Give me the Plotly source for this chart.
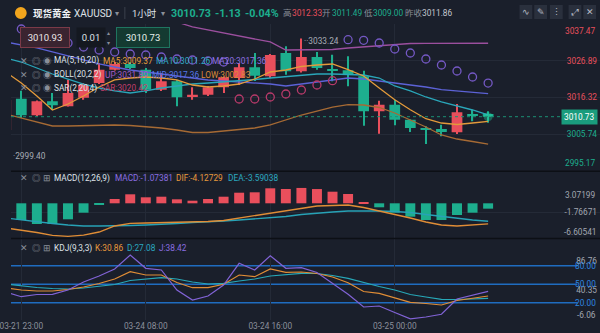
import plotly.graph_objects as go

# ---------------- data ----------------
IDX = list(range(-1, 31))
OPEN = [3006.90, 3015.92, 3011.13, 3015.17, 3013.73, 3016.20, 3020.44, 3024.27, 3025.92, 3024.27,
        3018.51, 3020.93, 3016.41, 3017.07, 3019.20, 3021.88, 3024.97, 3022.37, 3029.09, 3023.81,
        3027.93, 3024.48, 3024.10, 3022.37, 3012.29, 3014.19, 3009.86, 3007.47, 3007.18, 3006.23,
        3011.51, 3011.49]
HIGH = [3016.12, 3018.22, 3015.40, 3017.56, 3021.39, 3020.44, 3026.21, 3026.49, 3026.49, 3024.76,
        3023.32, 3021.31, 3019.20, 3019.58, 3022.31, 3026.21, 3029.09, 3028.80, 3031.02, 3033.24,
        3029.38, 3028.60, 3028.14, 3023.99, 3015.34, 3015.63, 3009.92, 3007.96, 3008.42, 3014.39,
        3012.75, 3012.33]
LOW = [2999.40, 3010.35, 3010.93, 3012.75, 3013.67, 3015.63, 3020.15, 3024.04, 3024.48, 3017.56,
       3018.14, 3013.73, 3015.63, 3016.69, 3017.56, 3019.86, 3021.02, 3021.88, 3022.83, 3023.47,
       3024.27, 3020.93, 3019.49, 3008.13, 3005.83, 3008.25, 3006.32, 3002.86, 3005.08, 3005.74,
       3009.40, 3009.00]
CLOSE = [3015.54, 3011.13, 3015.17, 3014.01, 3017.56, 3019.95, 3024.27, 3025.92, 3024.76, 3018.51,
         3020.93, 3016.32, 3017.07, 3019.20, 3022.08, 3024.97, 3022.54, 3028.51, 3023.81, 3027.93,
         3024.76, 3023.99, 3022.83, 3012.29, 3014.19, 3009.86, 3007.47, 3007.18, 3006.32, 3012.00,
         3011.22, 3010.73]

MA5 = [3023.61, 3020.44, 3016.69, 3012.66, 3014.39, 3016.69, 3019.29, 3021.31, 3021.88, 3022.17,
       3021.88, 3021.31, 3019.86, 3019.29, 3019.58, 3020.15, 3021.59, 3023.61, 3024.19, 3025.20,
       3025.63, 3025.92, 3024.27, 3022.46, 3019.00, 3015.63, 3012.75, 3010.15, 3008.91, 3008.48,
       3008.91, 3009.37]
MA10 = [3027.65, 3026.49, 3024.76, 3023.03, 3021.59, 3020.15, 3019.00, 3018.14, 3017.56, 3018.14,
        3019.00, 3019.58, 3020.15, 3020.44, 3020.73, 3021.02, 3021.45, 3021.88, 3022.31, 3022.75,
        3023.03, 3023.03, 3022.89, 3022.75, 3021.88, 3019.58, 3018.14, 3016.41, 3014.97, 3013.81,
        3012.66, 3011.26]
MA20 = [3032.26, 3031.39, 3030.53, 3029.38, 3028.22, 3027.07, 3025.92, 3025.05, 3024.19, 3023.61,
        3023.03, 3022.46, 3021.88, 3021.31, 3021.02, 3020.73, 3020.44, 3020.15, 3019.58, 3020.15,
        3020.73, 3021.31, 3021.88, 3021.59, 3021.02, 3020.44, 3019.86, 3019.29, 3018.51, 3018.14,
        3017.85, 3017.36]
BOLL_UP = [3053.01, 3052.43, 3051.86, 3050.71, 3048.39, 3045.95, 3043.50, 3041.76, 3040.19, 3039.32,
           3038.59, 3038.02, 3036.60, 3035.72, 3034.85, 3033.99, 3033.12, 3032.26, 3029.95, 3029.95,
           3029.95, 3030.10, 3030.53, 3030.82, 3031.10, 3031.54, 3031.82, 3031.88, 3031.88, 3031.88,
           3031.88, 3031.89]
BOLL_LOW = [3011.51, 3010.35, 3009.20, 3008.05, 3008.05, 3008.19, 3008.34, 3008.34, 3008.19, 3007.90,
            3007.47, 3006.90, 3006.18, 3006.18, 3006.61, 3006.90, 3007.47, 3008.34, 3009.78, 3011.22,
            3012.37, 3013.52, 3014.19, 3014.10, 3013.38, 3011.80, 3009.78, 3007.76, 3005.46, 3004.30,
            3003.58, 3002.83]
SAR = [None, 3036.00, 3034.85, 3033.41, 3031.97, 3030.82, 3029.95, 3029.38, 3028.80, 3028.51,
       3027.93, 3027.36, 3027.07, 3026.78, 3026.49, 3015.83, 3015.83, 3016.41, 3017.27, 3018.42,
       3019.86, 3021.10, 3032.92, 3032.75, 3031.97, 3030.24, 3029.09, 3027.36, 3025.63, 3023.90,
       3022.17, 3020.42]

MACD = [-2.9, -3.34, -4.14, -4.14, -3.2, -1.88, -0.34, 0.86, 1.8, 1.2,
        1.32, 0.8, 0.52, 0.86, 1.32, 2.12, 2.2, 3.0, 2.86, 3.07199,
        2.85, 2.32, 1.86, 0.2, -0.8, -1.88, -2.68, -3.34, -3.34, -2.34,
        -1.88, -1.07381]
DIF = [-4.94, -5.34, -5.84, -6.40, -6.60541, -6.35, -5.74, -4.54, -4.0, -3.94,
       -3.88, -3.8, -3.74, -3.64, -3.44, -2.94, -2.54, -1.94, -1.54, -0.94,
       -0.54, -0.44, -0.34, -0.84, -1.54, -2.14, -2.94, -3.74, -4.34, -4.54,
       -4.34, -4.12729]
DEA = [-2.94, -3.34, -3.74, -4.04, -4.34, -4.54, -4.54, -4.54, -4.44, -4.34,
       -4.24, -4.04, -3.84, -3.74, -3.54, -3.34, -3.14, -2.94, -2.64, -2.24,
       -1.94, -1.74, -1.54, -1.48, -1.54, -1.64, -1.84, -2.24, -2.64, -3.04,
       -3.34, -3.59038]

K = [43.84, 40.59, 38.97, 38.97, 41.40, 45.46, 51.13, 58.43, 70.27, 64.92,
     64.92, 52.75, 44.32, 44.32, 49.84, 64.92, 62.16, 74.64, 69.29, 69.78,
     67.35, 61.67, 52.43, 38.16, 35.24, 28.43, 20.65, 18.70, 16.27, 23.57,
     26.81, 30.86]
D = [50.32, 47.08, 44.65, 43.03, 42.21, 43.84, 46.27, 49.51, 56.0, 58.43,
     60.54, 58.43, 53.57, 50.32, 51.46, 55.19, 58.43, 63.29, 65.73, 67.67,
     67.35, 64.10, 59.56, 52.75, 46.27, 40.59, 33.30, 29.24, 25.51, 25.19,
     26.0, 27.08]
J = [37.35, 29.73, 33.30, 33.62, 40.59, 53.57, 63.29, 74.64, 97.35, 75.78,
     73.02, 40.59, 24.38, 30.86, 48.70, 83.89, 73.02, 96.21, 75.78, 76.75,
     68.97, 51.94, 33.62, 13.03, 14.65, 4.11, -6.06, -3.19, 1.19, 26.0,
     32.49, 38.42]

TIME_TICKS = [0, 8, 16, 24]
TIME_LABELS = ["03-21 23:00", "03-24 08:00", "03-24 16:00", "03-25 00:00"]
PRICE_TICKS = [3037.47, 3026.89, 3016.32, 3005.74, 2995.17]
MACD_TICKS = [3.07199, -1.76671, -6.60541]
KDJ_TICKS = [86.76, 40.35, -6.06]
KDJ_LEVELS = [80, 50, 20]
PREV_CLOSE = 3011.86
ORDER_SELL, ORDER_LOT, ORDER_BUY = "3010.93", "0.01", "3010.73"

# ---------------- style ----------------
W, H = 600, 333
BG = "#1a1f2b"
GRID = "#242a37"
RED = "#e94f5c"
GREEN = "#1dae8e"
C_MA5, C_MA10, C_MA20 = "#e39a3b", "#2aa6b9", "#5c62d6"
C_UP, C_LOW = "#9b4f9e", "#a66a34"
SAR_BELOW, SAR_ABOVE = "#b73a6a", "#7458c4"
C_DIF, C_DEA = "#e08d36", "#27a2b6"
C_K, C_D, C_J = "#e08d36", "#27a8b8", "#8163d6"
LVL = "#1f6cc0"
AX_TXT = "#a2a7b1"
ICON = "#8a8f99"
WHITE = "#dfe2e8"
FONT = "Roboto, Noto Sans, Noto Sans CJK SC, sans-serif"
FS = 8.3  # small text size


def px(x):
    return x / W


def py(y):
    return 1 - y / H


X_RANGE = [-0.6625, 37.19]
DOM_PRICE = [py(170.7), py(23.9)]
DOM_MACD = [py(238), py(172)]
DOM_KDJ = [py(320), py(239)]

fig = go.Figure()

# ---- price pane: candles from OHLC ----
cols = [RED if c >= o else GREEN for o, c in zip(OPEN, CLOSE)]
fig.add_trace(go.Bar(x=IDX, base=LOW, y=[h - l for h, l in zip(HIGH, LOW)], width=0.075,
                     xaxis="x", yaxis="y", marker=dict(color=cols, line=dict(width=0)),
                     showlegend=False, hoverinfo="skip"))
fig.add_trace(go.Bar(x=IDX, base=[min(o, c) for o, c in zip(OPEN, CLOSE)],
                     y=[max(abs(c - o), 0.3) for o, c in zip(OPEN, CLOSE)], width=0.69,
                     xaxis="x", yaxis="y", marker=dict(color=cols, line=dict(width=0)),
                     showlegend=False, hoverinfo="skip"))

for ys, col in [(BOLL_UP, C_UP), (BOLL_LOW, C_LOW), (MA20, C_MA20), (MA10, C_MA10), (MA5, C_MA5)]:
    fig.add_trace(go.Scatter(x=IDX, y=ys, mode="lines", xaxis="x", yaxis="y",
                             line=dict(color=col, width=1.3), showlegend=False, hoverinfo="skip"))

sar_cols = [SAR_BELOW if (s is not None and s < c) else SAR_ABOVE for s, c in zip(SAR, CLOSE)]
fig.add_trace(go.Scatter(x=IDX, y=SAR, mode="markers", xaxis="x", yaxis="y",
                         marker=dict(symbol="circle-open", size=8, color=sar_cols, line=dict(width=1.3)),
                         showlegend=False, hoverinfo="skip"))
fig.add_trace(go.Scatter(x=[IDX[-1]], y=[CLOSE[-1]], mode="markers", xaxis="x", yaxis="y",
                         marker=dict(size=9, color="rgba(40,220,170,0.35)"),
                         showlegend=False, hoverinfo="skip"))

# ---- MACD pane ----
fig.add_trace(go.Bar(x=IDX, y=MACD, xaxis="x2", yaxis="y2", width=0.64,
                     marker=dict(color=[RED if v > 0 else GREEN for v in MACD], line=dict(width=0)),
                     showlegend=False, hoverinfo="skip"))
fig.add_trace(go.Scatter(x=IDX, y=DEA, mode="lines", xaxis="x2", yaxis="y2",
                         line=dict(color=C_DEA, width=1.3), showlegend=False, hoverinfo="skip"))
fig.add_trace(go.Scatter(x=IDX, y=DIF, mode="lines", xaxis="x2", yaxis="y2",
                         line=dict(color=C_DIF, width=1.3), showlegend=False, hoverinfo="skip"))

# ---- KDJ pane ----
for ys, col in [(D, C_D), (K, C_K), (J, C_J)]:
    fig.add_trace(go.Scatter(x=IDX, y=ys, mode="lines", xaxis="x3", yaxis="y3",
                             line=dict(color=col, width=1.2), showlegend=False, hoverinfo="skip"))

# ---------------- shapes ----------------
shapes = []
for lv in KDJ_LEVELS:
    shapes.append(dict(type="line", xref="paper", yref="y3", x0=0, x1=px(577), y0=lv, y1=lv,
                       line=dict(color=LVL, width=1.5), layer="below"))
shapes.append(dict(type="line", xref="paper", yref="y", x0=0, x1=px(566), y0=CLOSE[-1], y1=CLOSE[-1],
                   line=dict(color="#1c8f73", width=1, dash="dot")))
for yy in (171.3, 238.5):
    shapes.append(dict(type="line", xref="paper", yref="paper", x0=0, x1=1, y0=py(yy), y1=py(yy),
                       line=dict(color="#0c0f15", width=1.5)))
shapes.append(dict(type="circle", xref="paper", yref="paper", x0=px(4), x1=px(16), y0=py(19), y1=py(7),
                   fillcolor="#f2a51d", line=dict(width=0)))
shapes.append(dict(type="line", xref="paper", yref="paper", x0=px(116), x1=px(116), y0=py(19), y1=py(7),
                   line=dict(color="#3b414d", width=1)))
for x0, x1 in [(518, 531), (533, 546), (549, 562), (568, 581), (583, 596)]:
    shapes.append(dict(type="rect", xref="paper", yref="paper", x0=px(x0), x1=px(x1), y0=py(19), y1=py(5),
                       fillcolor="#2a303d", line=dict(width=0)))

# ---------------- annotations ----------------
ann = []


def A(x, y, text, color, size=FS, xanchor="left", bold=False, xref="paper", yref="paper", **kw):
    if bold:
        text = "<b>" + text + "</b>"
    d = dict(x=x, y=y, xref=xref, yref=yref, text=text, showarrow=False, xanchor=xanchor,
             yanchor="middle", font=dict(color=color, size=size, family=FONT))
    d.update(kw)
    return d


last = CLOSE[-1]
chg = last - PREV_CLOSE
pct = chg / PREV_CLOSE * 100
hy = py(13)
ann += [
    A(px(20), hy, "现货黄金", "#f0f2f5", 9.5, bold=True),
    A(px(62), hy, "XAUUSD", WHITE, 10),
    A(px(104), hy, "▾", ICON, 8),
    A(px(121), hy, "1小时", WHITE, 9.5),
    A(px(151), hy, "▾", ICON, 8),
    A(px(161), hy, f"{last:.2f}", GREEN, 10.7, bold=True),
    A(px(206), hy, f"{chg:.2f}", GREEN, 10.7, bold=True),
    A(px(236), hy, f"{pct:.2f}%", GREEN, 10.7, bold=True),
    A(px(275), hy, "高", ICON, 8.5),
    A(px(284), hy, f"{HIGH[-1]:.2f}", RED, FS),
    A(px(315), hy, "开", ICON, 8.5),
    A(px(325), hy, f"{OPEN[-1]:.2f}", GREEN, FS),
    A(px(358), hy, "低", ICON, 8.5),
    A(px(367), hy, f"{LOW[-1]:.2f}", GREEN, FS),
    A(px(399), hy, "昨收", ICON, 8.5),
    A(px(417), hy, f"{PREV_CLOSE:.2f}", "#c3c7cf", FS),
]
for xc, g in [(524.5, "∿"), (539.5, "✎"), (555.5, "⋮"), (574.5, "⤢"), (589.5, "✕")]:
    ann.append(A(px(xc), py(12), g, "#b8bcc6", 9, xanchor="center"))

# order boxes
ann.append(A(px(35), py(37.5), ORDER_SELL, "#ece6e8", 9.5, xanchor="center", width=46, height=17,
             bgcolor="#3a2430", bordercolor="#7b3a48", borderwidth=1, borderpad=1))
ann.append(A(px(81), py(37.5), ORDER_LOT, WHITE, 9.5, xanchor="center", width=26, height=17,
             bgcolor="#141820", borderpad=1))
ann.append(A(px(99), py(33), "▴", ICON, 6, xanchor="center"))
ann.append(A(px(99), py(42), "▾", ICON, 6, xanchor="center"))
ann.append(A(px(134), py(37.5), ORDER_BUY, "#e6f0ec", 9.5, xanchor="center", width=50, height=17,
             bgcolor="#143a31", bordercolor="#1f7560", borderwidth=1, borderpad=1))


def icons(y, third):
    return [A(px(7), py(y), "✕", ICON, 8.5), A(px(19), py(y), "◎", ICON, 8.5), A(px(31), py(y), third, ICON, 8.5)]


rows = [
    (61, "◉", "MA(5,10,20)", [(92, f"MA5:{MA5[-1]:.2f}", "#e8a03c"), (146, f"MA10:{MA10[-1]:.2f}", "#31a9c6"),
                              (203, f"MA20:{MA20[-1]:.2f}", "#8f72e3")]),
    (74.5, "◉", "BOLL(20,2,2)", [(94, f"UP:{BOLL_UP[-1]:.2f}", "#a45bc4"), (142, f"MID:{MA20[-1]:.2f}", "#5577e8"),
                                 (192, f"LOW:{BOLL_LOW[-1]:.2f}", "#dc8b38")]),
    (88, "◉", "SAR(2,20,4)", [(89, f"SAR:{SAR[-1]:.2f}", "#c23e6c")]),
    (178, "⊞", "MACD(12,26,9)", [(104, f"MACD:{MACD[-1]:.5f}", "#8a6ee2"), (166, f"DIF:{DIF[-1]:.5f}", "#e8993c"),
                                  (219, f"DEA:{DEA[-1]:.5f}", "#2aa9c0")]),
    (248, "⊞", "KDJ(9,3,3)", [(84, f"K:{K[-1]:.2f}", "#e8993c"), (116, f"D:{D[-1]:.2f}", "#2aa9c0"),
                              (149, f"J:{J[-1]:.2f}", "#8a6ee2")]),
]
for y, third, title, items in rows:
    ann += icons(y, third)
    ann.append(A(px(42), py(y), title, WHITE, FS))
    for x, t, c in items:
        ann.append(A(px(x), py(y), t, c, FS))

# clamped end labels of the right-hand scales
ann.append(A(px(598), PRICE_TICKS[0], f"{PRICE_TICKS[0]:.2f}", RED, FS, xanchor="right", yref="y", yshift=-7))
ann.append(A(px(598), PRICE_TICKS[-1], f"{PRICE_TICKS[-1]:.2f}", GREEN, FS, xanchor="right", yref="y", yshift=8))
ann.append(A(px(598), MACD_TICKS[0], f"{MACD_TICKS[0]:.5f}", AX_TXT, FS, xanchor="right", yref="y2", yshift=-7))
ann.append(A(px(598), MACD_TICKS[-1], f"{MACD_TICKS[-1]:.5f}", AX_TXT, FS, xanchor="right", yref="y2", yshift=4))
ann.append(A(px(598), KDJ_TICKS[-1], f"{KDJ_TICKS[-1]:.2f}", AX_TXT, FS, xanchor="right", yref="y3", yshift=4))
for lv in KDJ_LEVELS:
    ann.append(A(px(598), lv, f"{lv:.2f}", "#2f86e0", FS, xanchor="right", yref="y3"))

# current price tag
ann.append(A(px(598), last, f"{last:.2f}", "#ffffff", FS, xanchor="right", yref="y",
             bgcolor="#1a9c7d", borderpad=2))
# high / low markers
hi_i = HIGH.index(max(HIGH))
ann.append(A(IDX[hi_i], HIGH[hi_i], "··" + f"{HIGH[hi_i]:.2f}", "#a8adb6", FS, xref="x", yref="y",
             xshift=1, yshift=-2))
lo_i = LOW.index(min(LOW))
ann.append(A(px(0), LOW[lo_i], "·" + f"{LOW[lo_i]:.2f}", "#a8adb6", FS, yref="y"))


def ticktext(vals, fmt, colors):
    return [f"<span style='color:{c}'>{fmt.format(v)}</span>" for v, c in zip(vals, colors)]


mid_price = PRICE_TICKS[1:4]
xcommon = dict(range=X_RANGE, tickvals=TIME_TICKS, showgrid=True, gridcolor=GRID, gridwidth=1,
               zeroline=False, showline=False, ticks="", fixedrange=True)
ycommon = dict(side="right", ticklabelposition="inside", ticks="", zeroline=False, showline=False,
               fixedrange=True, tickfont=dict(size=FS, color=AX_TXT, family=FONT))

fig.update_layout(
    width=W, height=H, margin=dict(l=0, r=0, t=0, b=0),
    paper_bgcolor=BG, plot_bgcolor="rgba(0,0,0,0)",
    showlegend=False, barmode="overlay",
    font=dict(family=FONT, color=AX_TXT),
    xaxis=dict(domain=[0, 1], anchor="y", showticklabels=False, **xcommon),
    xaxis2=dict(domain=[0, 1], anchor="y2", matches="x", showticklabels=False, **xcommon),
    xaxis3=dict(domain=[0, 1], anchor="y3", matches="x", showticklabels=True, ticktext=TIME_LABELS,
                ticklabeloverflow="allow",
                tickfont=dict(size=FS, color="#8b909b", family=FONT), **xcommon),
    yaxis=dict(domain=DOM_PRICE, anchor="x", range=[PRICE_TICKS[-1], PRICE_TICKS[0]], tickvals=mid_price,
               ticktext=ticktext(mid_price, "{:.2f}", [RED if v > PREV_CLOSE else GREEN for v in mid_price]),
               showgrid=True, gridcolor=GRID, **ycommon),
    yaxis2=dict(domain=DOM_MACD, anchor="x2", range=[-6.94, 6.26], tickvals=[MACD_TICKS[1]],
                ticktext=[f"{MACD_TICKS[1]:.5f}"], showgrid=True, gridcolor=GRID, **ycommon),
    yaxis3=dict(domain=DOM_KDJ, anchor="x3", range=[-8.05, 123.29], tickvals=KDJ_TICKS[:2],
                ticktext=[f"{v:.2f}" for v in KDJ_TICKS[:2]], showgrid=False, **ycommon),
    shapes=shapes, annotations=ann,
)

fig.write_html("out.html")
